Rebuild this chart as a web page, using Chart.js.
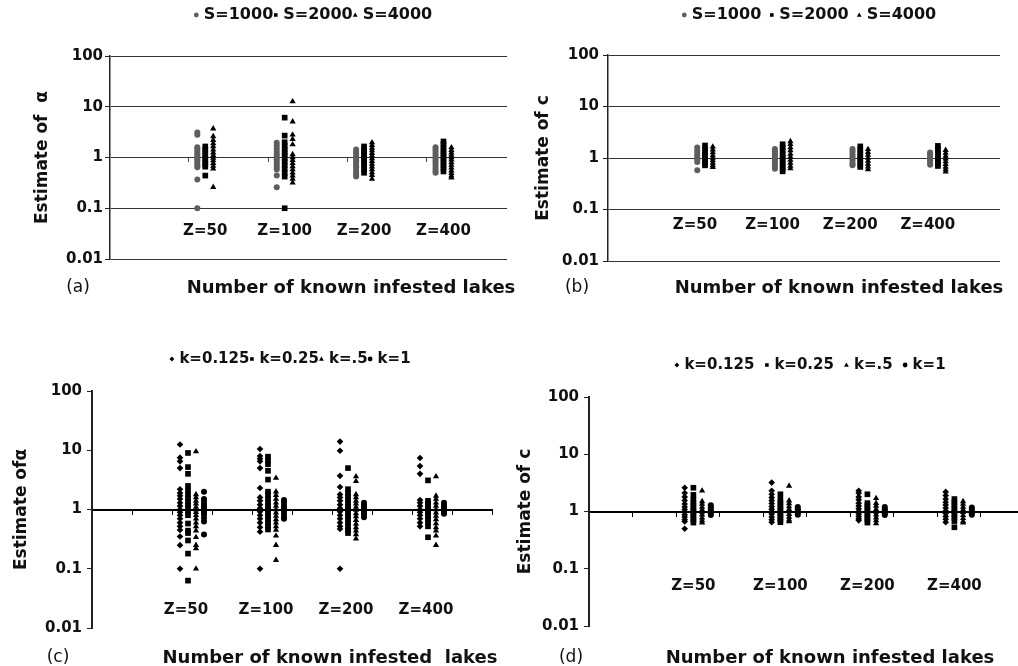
<!DOCTYPE html>
<html>
<head>
<meta charset="utf-8">
<script src="https://cdn.jsdelivr.net/npm/chart.js@4.4.1/dist/chart.umd.min.js"></script>
<style>
  body { margin: 0; width: 1018px; height: 666px; overflow: hidden; background: #fff; position: relative; }
  .panel { position: absolute; }
</style>
</head>
<body>
<div class="panel" style="left:0;top:0;width:530px;height:300px"><canvas id="chartA"></canvas></div>
<div class="panel" style="left:509px;top:0;width:509px;height:300px"><canvas id="chartB"></canvas></div>
<div class="panel" style="left:0;top:333px;width:509px;height:333px"><canvas id="chartC"></canvas></div>
<div class="panel" style="left:509px;top:333px;width:520px;height:333px"><canvas id="chartD"></canvas></div>
<script>
// categorias y etiquetas
const zLabels = ['Z=50', 'Z=100', 'Z=200', 'Z=400'];
const sLabels = ['S=1000', 'S=2000', 'S=4000'];
const kLabels = ['k=0.125', 'k=0.25', 'k=.5', 'k=1'];
const yTicks = [0.01, 0.1, 1, 10, 100];
const yTickLabels = ['0.01', '0.1', '1', '10', '100'];

// (a) estimado de alpha, un arreglo por Z
const alphaS1000 = [
  [3.1, 2.8, 1.6, 1.45, 1.3, 1.18, 1.08, 1.0, 0.93, 0.86, 0.78, 0.7, 0.64, 0.37, 0.1],
  [1.95, 1.7, 1.5, 1.3, 1.15, 1.02, 0.92, 0.82, 0.73, 0.65, 0.58, 0.44, 0.26],
  [1.44, 1.3, 1.18, 1.08, 0.98, 0.88, 0.8, 0.72, 0.64, 0.57, 0.5, 0.45, 0.42],
  [1.6, 1.44, 1.3, 1.16, 1.04, 0.94, 0.84, 0.76, 0.68, 0.6, 0.54, 0.5]
];
const alphaS2000 = [
  [1.65, 1.45, 1.28, 1.13, 1.0, 0.9, 0.8, 0.72, 0.66, 0.44],
  [6.1, 2.7, 2.0, 1.7, 1.45, 1.25, 1.1, 0.95, 0.82, 0.7, 0.6, 0.5, 0.42, 0.1],
  [1.65, 1.45, 1.28, 1.13, 1.0, 0.88, 0.78, 0.68, 0.58, 0.5],
  [2.07, 1.8, 1.55, 1.35, 1.18, 1.04, 0.92, 0.8, 0.7, 0.61, 0.53]
];
const alphaS4000 = [
  [3.7, 2.6, 2.2, 1.9, 1.65, 1.42, 1.25, 1.1, 0.98, 0.87, 0.77, 0.68, 0.6, 0.26],
  [12.7, 5.1, 2.8, 2.3, 1.8, 1.15, 1.0, 0.88, 0.77, 0.67, 0.58, 0.5, 0.44, 0.38, 0.32],
  [1.97, 1.75, 1.55, 1.38, 1.22, 1.08, 0.96, 0.85, 0.75, 0.66, 0.58, 0.51, 0.45, 0.38],
  [1.57, 1.4, 1.25, 1.12, 1.0, 0.9, 0.8, 0.71, 0.63, 0.55, 0.49, 0.44, 0.4]
];

// (b) estimado de c
const cS1000 = [
  [1.6, 1.4, 1.25, 1.12, 1.0, 0.92, 0.84, 0.58],
  [1.5, 1.35, 1.22, 1.1, 1.0, 0.9, 0.82, 0.74, 0.67, 0.62],
  [1.5, 1.35, 1.2, 1.08, 0.97, 0.87, 0.78, 0.72],
  [1.28, 1.18, 1.08, 0.98, 0.9, 0.82, 0.74]
];
const cS2000 = [
  [1.75, 1.5, 1.3, 1.15, 1.0, 0.9, 0.8, 0.72],
  [1.85, 1.6, 1.4, 1.2, 1.05, 0.92, 0.8, 0.7, 0.62, 0.55],
  [1.68, 1.45, 1.25, 1.1, 0.97, 0.85, 0.75, 0.67],
  [1.72, 1.5, 1.3, 1.14, 1.0, 0.88, 0.78, 0.7]
];
const cS4000 = [
  [1.65, 1.45, 1.28, 1.12, 1.0, 0.9, 0.8, 0.72, 0.66],
  [2.1, 1.85, 1.6, 1.4, 1.2, 1.05, 0.92, 0.8, 0.7, 0.63],
  [1.48, 1.3, 1.15, 1.0, 0.88, 0.77, 0.68, 0.6],
  [1.42, 1.25, 1.1, 0.97, 0.86, 0.76, 0.67, 0.6, 0.54]
];

// (c) estimado de alpha por k
const alphaK0125 = [
  [12.5, 7.5, 6.5, 5.0, 2.2, 1.9, 1.7, 1.5, 1.3, 1.15, 1.0, 0.9, 0.8, 0.7, 0.6, 0.52, 0.45, 0.35, 0.25, 0.1],
  [10.5, 8.0, 7.2, 6.5, 5.0, 2.3, 1.6, 1.4, 1.2, 1.05, 0.92, 0.8, 0.7, 0.6, 0.5, 0.42, 0.1],
  [14, 9.8, 3.7, 2.4, 1.8, 1.6, 1.4, 1.2, 1.05, 0.92, 0.8, 0.7, 0.6, 0.52, 0.47, 0.1],
  [7.4, 5.4, 4.0, 1.45, 1.3, 1.15, 1.0, 0.9, 0.8, 0.7, 0.6, 0.52]
];
const alphaK025 = [
  [9.0, 5.2, 4.0, 2.5, 2.1, 1.8, 1.55, 1.35, 1.2, 1.05, 0.92, 0.8, 0.58, 0.44, 0.4, 0.3, 0.18, 0.063],
  [7.8, 6.8, 5.8, 4.5, 3.2, 2.0, 1.75, 1.5, 1.3, 1.15, 1.0, 0.88, 0.78, 0.68, 0.6, 0.52, 0.46],
  [5.0, 2.2, 1.9, 1.65, 1.45, 1.28, 1.12, 1.0, 0.88, 0.78, 0.68, 0.6, 0.52, 0.45, 0.4],
  [3.1, 1.4, 1.25, 1.1, 0.98, 0.88, 0.78, 0.68, 0.6, 0.52, 0.34]
];
const alphaK05 = [
  [9.5, 1.8, 1.6, 1.4, 1.25, 1.1, 1.0, 0.9, 0.8, 0.7, 0.6, 0.52, 0.44, 0.34, 0.25, 0.22, 0.1],
  [3.4, 2.0, 1.75, 1.5, 1.3, 1.15, 1.0, 0.88, 0.78, 0.68, 0.6, 0.52, 0.45, 0.36, 0.25, 0.14],
  [3.6, 3.0, 1.8, 1.6, 1.4, 1.25, 1.1, 0.98, 0.86, 0.76, 0.66, 0.57, 0.5, 0.44, 0.38, 0.32],
  [3.6, 1.7, 1.5, 1.3, 1.15, 1.0, 0.88, 0.78, 0.68, 0.58, 0.5, 0.44, 0.36, 0.25]
];
const alphaK1 = [
  [2.0, 1.5, 1.35, 1.2, 1.1, 1.0, 0.9, 0.82, 0.72, 0.63, 0.38],
  [1.45, 1.3, 1.15, 1.05, 0.95, 0.85, 0.75, 0.7],
  [1.3, 1.2, 1.1, 1.0, 0.9, 0.82, 0.74],
  [1.3, 1.2, 1.1, 1.0, 0.92, 0.85]
];

// (d) estimado de c por k
const cK0125 = [
  [2.6, 2.1, 1.8, 1.55, 1.35, 1.2, 1.08, 0.98, 0.88, 0.8, 0.72, 0.67, 0.5],
  [3.2, 2.3, 2.0, 1.75, 1.55, 1.38, 1.22, 1.1, 1.0, 0.9, 0.8, 0.72, 0.65],
  [2.3, 2.1, 1.8, 1.6, 1.4, 1.25, 1.12, 1.0, 0.9, 0.82, 0.75, 0.7],
  [2.2, 1.9, 1.65, 1.45, 1.3, 1.15, 1.02, 0.92, 0.82, 0.73, 0.65]
];
const cK025 = [
  [2.6, 1.95, 1.6, 1.4, 1.25, 1.1, 1.0, 0.9, 0.8, 0.72, 0.64],
  [2.0, 1.6, 1.4, 1.25, 1.1, 1.0, 0.9, 0.8, 0.72, 0.65],
  [2.0, 1.4, 1.25, 1.12, 1.0, 0.9, 0.8, 0.72, 0.64],
  [1.65, 1.45, 1.28, 1.12, 1.0, 0.88, 0.78, 0.68, 0.53]
];
const cK05 = [
  [2.3, 1.5, 1.35, 1.2, 1.08, 0.98, 0.88, 0.78, 0.7, 0.64],
  [2.8, 1.55, 1.38, 1.22, 1.1, 1.0, 0.9, 0.8, 0.72, 0.67],
  [1.7, 1.4, 1.25, 1.1, 0.98, 0.88, 0.78, 0.7, 0.62],
  [1.5, 1.35, 1.2, 1.08, 0.97, 0.86, 0.76, 0.68, 0.64]
];
const cK1 = [
  [1.28, 1.18, 1.08, 1.0, 0.92, 0.87],
  [1.2, 1.1, 1.02, 0.95, 0.88],
  [1.2, 1.1, 1.0, 0.92, 0.87],
  [1.18, 1.08, 1.0, 0.93, 0.88]
];

const FONT = "'DejaVu Sans', sans-serif";
const INK = '#111';

// posiciones de los grupos en el eje x
const posAB = [1, 2, 3, 4];
const posCD = [2.5, 4.5, 6.5, 8.5];

function markerPath(ctx, style, x, y, r) {
  ctx.beginPath();
  if (style === 'circle') {
    ctx.arc(x, y, r, 0, Math.PI * 2);
  } else if (style === 'rect') {
    ctx.rect(x - r * 0.75, y - r * 0.75, r * 1.5, r * 1.5);
  } else if (style === 'triangle') {
    ctx.moveTo(x, y - r);
    ctx.lineTo(x + r, y + r * 0.7);
    ctx.lineTo(x - r, y + r * 0.7);
    ctx.closePath();
  } else {
    ctx.moveTo(x, y - r);
    ctx.lineTo(x + r, y);
    ctx.lineTo(x, y + r);
    ctx.lineTo(x - r, y);
    ctx.closePath();
  }
  ctx.fill();
}

// textos del panel: leyenda, etiquetas Z, letra y titulo del eje x
const panelText = {
  id: 'panelText',
  afterDraw(chart, args, o) {
    const ctx = chart.ctx;
    const xs = chart.scales.x, ys = chart.scales.y;
    ctx.save();
    ctx.textBaseline = 'middle';
    ctx.fillStyle = INK;

    ctx.textAlign = 'center';
    ctx.font = 'bold 15px ' + FONT;
    o.cats.forEach((lab, i) => {
      ctx.fillText(lab, xs.getPixelForValue(o.catPos[i] + o.catShift), ys.getPixelForValue(o.catY));
    });

    ctx.font = '17px ' + FONT;
    ctx.fillText(o.letter, o.letterX, o.bottomY);
    ctx.font = 'bold 18px ' + FONT;
    ctx.fillText(o.xTitle, o.xTitleX, o.bottomY);

    ctx.font = 'bold ' + o.legendSize + 'px ' + FONT;
    ctx.textAlign = 'left';
    const items = chart.data.datasets.map(ds => ({
      text: ds.label, style: ds.pointStyle, color: ds.backgroundColor,
      w: ctx.measureText(ds.label).width
    }));
    const mw = 5, gap = 5;
    const total = items.reduce((s, it) => s + mw + gap + it.w, 0) + o.legendSep * (items.length - 1);
    let x = o.legendX - total / 2;
    items.forEach(it => {
      ctx.fillStyle = it.color;
      markerPath(ctx, it.style, x + mw / 2, o.legendY, 2.4);
      ctx.fillStyle = INK;
      ctx.fillText(it.text, x + mw + gap, o.legendY);
      x += mw + gap + it.w + o.legendSep;
    });
    ctx.restore();
  }
};

function makeSets(series, labels, pos, offsets, styles, radii, colors) {
  return series.map((cols, s) => ({
    label: labels[s],
    data: cols.flatMap((col, i) => col.map(v => ({ x: pos[i] + offsets[s], y: v }))),
    pointStyle: styles[s],
    pointRadius: radii[s],
    pointHoverRadius: radii[s],
    backgroundColor: colors[s],
    borderColor: colors[s],
    borderWidth: 0,
    showLine: false
  }));
}

function yAxis(title, titlePad, width, gridOn, tickPad) {
  return {
    type: 'logarithmic',
    min: 0.01,
    max: 100,
    afterBuildTicks: s => { s.ticks = yTicks.map(v => ({ value: v })); },
    afterFit: s => { s.width = width; },
    ticks: {
      callback: (v, i) => yTickLabels[i],
      font: { family: FONT, size: 15, weight: 'bold' },
      color: INK,
      padding: tickPad,
      autoSkip: false
    },
    grid: { drawOnChartArea: gridOn, color: '#333', tickColor: '#222', tickLength: 5, lineWidth: 1 },
    border: { color: '#222', width: gridOn ? 1.5 : 2 },
    title: {
      display: true,
      text: title,
      font: { family: FONT, size: 17, weight: 'bold' },
      color: INK,
      padding: { top: titlePad, bottom: 0 }
    }
  };
}

function baseOptions(pad, scales, text) {
  return {
    responsive: true,
    maintainAspectRatio: false,
    animation: false,
    events: [],
    layout: { padding: pad },
    plugins: {
      legend: { display: false },
      tooltip: { enabled: false },
      panelText: text
    },
    scales: scales
  };
}

const grayBlack = ['#5e5e5e', '#000', '#000'];
const allBlack = ['#000', '#000', '#000', '#000'];

// (a)
new Chart(document.getElementById('chartA'), {
  type: 'scatter',
  data: { datasets: makeSets([alphaS1000, alphaS2000, alphaS4000], sLabels, posAB, [-0.1, 0, 0.1],
    ['circle', 'rect', 'triangle'], [3, 4, 3.6], grayBlack) },
  options: baseOptions({ top: 56, right: 23, bottom: 41, left: 0 }, {
    x: {
      type: 'linear', min: -0.2, max: 4.8, position: { y: 1 },
      afterFit: s => { s.height = 0; },
      afterBuildTicks: s => { s.ticks = posAB.map(p => ({ value: p - 0.21 })); },
      ticks: { display: false },
      grid: { drawOnChartArea: false, tickLength: 4, color: '#444' },
      border: { display: false }
    },
    y: yAxis('Estimate of  \u03b1', 32, 110, true, 2)
  }, {
    cats: zLabels, catPos: posAB, catShift: 0, catY: 0.0348,
    letter: '(a)', letterX: 78, xTitle: 'Number of known infested lakes', xTitleX: 351, bottomY: 288,
    legendX: 313, legendY: 15, legendSep: 0, legendSize: 16
  }),
  plugins: [panelText]
});

// (b)
new Chart(document.getElementById('chartB'), {
  type: 'scatter',
  data: { datasets: makeSets([cS1000, cS2000, cS4000], sLabels, posAB, [-0.1, 0, 0.1],
    ['circle', 'rect', 'triangle'], [3, 4, 3.6], grayBlack) },
  options: baseOptions({ top: 55, right: 18, bottom: 39, left: 0 }, {
    x: { type: 'linear', min: -0.25, max: 4.8, display: false },
    y: yAxis('Estimate of c', 24, 99, true, 4)
  }, {
    cats: zLabels, catPos: posAB, catShift: -0.13, catY: 0.05,
    letter: '(b)', letterX: 68, xTitle: 'Number of known infested lakes', xTitleX: 330, bottomY: 288,
    legendX: 300, legendY: 15, legendSep: 8, legendSize: 16
  }),
  plugins: [panelText]
});

function xAxisCD() {
  return {
    type: 'linear', min: 0, max: 10, position: { y: 1 },
    afterFit: s => { s.height = 0; },
    ticks: { display: false, stepSize: 1 },
    grid: { drawOnChartArea: false, tickLength: 4, color: '#000' },
    border: { display: true, color: '#000', width: 2 }
  };
}

// (c)
new Chart(document.getElementById('chartC'), {
  type: 'scatter',
  data: { datasets: makeSets([alphaK0125, alphaK025, alphaK05, alphaK1], kLabels, posCD, [-0.3, -0.1, 0.1, 0.3],
    ['rectRot', 'rect', 'triangle', 'circle'], [3.3, 4, 3.6, 3], allBlack) },
  options: baseOptions({ top: 58, right: 17, bottom: 38, left: 0 }, {
    x: xAxisCD(),
    y: yAxis('Estimate of\u03b1', 11, 92, false, 5)
  }, {
    cats: zLabels, catPos: posCD, catShift: -0.15, catY: 0.0197,
    letter: '(c)', letterX: 58, xTitle: 'Number of known infested  lakes', xTitleX: 330, bottomY: 325,
    legendX: 290, legendY: 26, legendSep: 0, legendSize: 15
  }),
  plugins: [panelText]
});

// (d)
new Chart(document.getElementById('chartD'), {
  type: 'scatter',
  data: { datasets: makeSets([cK0125, cK025, cK05, cK1], kLabels, posCD, [-0.3, -0.1, 0.1, 0.3],
    ['rectRot', 'rect', 'triangle', 'circle'], [3.3, 4, 3.6, 3], allBlack) },
  options: baseOptions({ top: 64, right: 5, bottom: 40, left: 0 }, {
    x: xAxisCD(),
    y: yAxis('Estimate of c', 6, 80, false, 5)
  }, {
    cats: zLabels, catPos: posCD, catShift: -0.1, catY: 0.0496,
    letter: '(d)', letterX: 62, xTitle: 'Number of known infested lakes', xTitleX: 321, bottomY: 325,
    legendX: 301, legendY: 32, legendSep: 10, legendSize: 15
  }),
  plugins: [panelText]
});
</script>
</body>
</html>
